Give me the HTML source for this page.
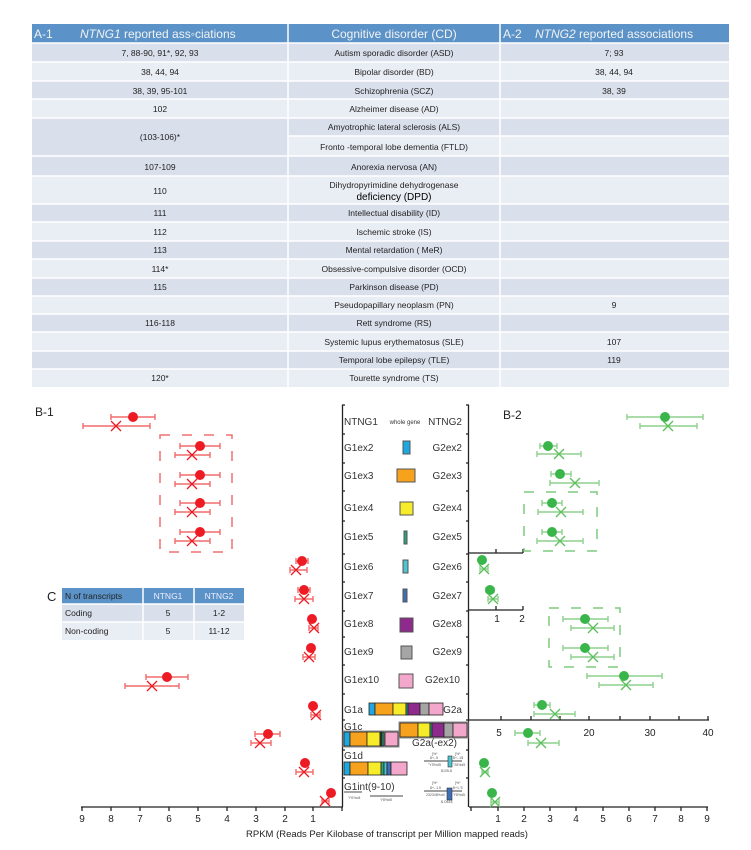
<!DOCTYPE html>
<html><head><meta charset="utf-8"><style>
html,body{margin:0;padding:0;background:#fff;}
svg{display:block;font-family:"Liberation Sans",sans-serif;}
</style></head><body>
<svg width="751" height="850" viewBox="0 0 751 850" xmlns="http://www.w3.org/2000/svg">
<!-- TABLE A -->
<g>
<rect x="32" y="24" width="697" height="19" fill="#5b93c8"/>
<rect x="32" y="43" width="697" height="19" fill="#d9dfeb"/>
<rect x="32" y="62" width="697" height="19" fill="#e9edf4"/>
<rect x="32" y="81" width="697" height="18" fill="#d9dfeb"/>
<rect x="32" y="99" width="697" height="19" fill="#e9edf4"/>
<rect x="32" y="118" width="697" height="18" fill="#d9dfeb"/>
<rect x="288" y="136" width="441" height="20" fill="#e9edf4"/>
<rect x="32" y="136" width="256" height="20" fill="#d9dfeb"/>
<rect x="32" y="156" width="697" height="20" fill="#d9dfeb"/>
<rect x="32" y="176" width="697" height="28" fill="#e9edf4"/>
<rect x="32" y="204" width="697" height="18" fill="#d9dfeb"/>
<rect x="32" y="222" width="697" height="19" fill="#e9edf4"/>
<rect x="32" y="241" width="697" height="18" fill="#d9dfeb"/>
<rect x="32" y="259" width="697" height="19" fill="#e9edf4"/>
<rect x="32" y="278" width="697" height="18" fill="#d9dfeb"/>
<rect x="32" y="296" width="697" height="18" fill="#e9edf4"/>
<rect x="32" y="314" width="697" height="18" fill="#d9dfeb"/>
<rect x="32" y="332" width="697" height="19" fill="#e9edf4"/>
<rect x="32" y="351" width="697" height="18" fill="#d9dfeb"/>
<rect x="32" y="369" width="697" height="18" fill="#e9edf4"/>
<g stroke="#fff" stroke-width="1.5">
<line x1="288" y1="24" x2="288" y2="387"/><line x1="500" y1="24" x2="500" y2="387"/>
<line x1="32" y1="43" x2="729" y2="43"/><line x1="32" y1="62" x2="729" y2="62"/>
<line x1="32" y1="81" x2="729" y2="81"/><line x1="32" y1="99" x2="729" y2="99"/>
<line x1="32" y1="118" x2="729" y2="118"/><line x1="288" y1="136" x2="729" y2="136"/>
<line x1="32" y1="156" x2="729" y2="156"/><line x1="32" y1="176" x2="729" y2="176"/>
<line x1="32" y1="204" x2="729" y2="204"/><line x1="32" y1="222" x2="729" y2="222"/>
<line x1="32" y1="241" x2="729" y2="241"/><line x1="32" y1="259" x2="729" y2="259"/>
<line x1="32" y1="278" x2="729" y2="278"/><line x1="32" y1="296" x2="729" y2="296"/>
<line x1="32" y1="314" x2="729" y2="314"/><line x1="32" y1="332" x2="729" y2="332"/>
<line x1="32" y1="351" x2="729" y2="351"/><line x1="32" y1="369" x2="729" y2="369"/>
</g>
<g fill="#f2f2f2" font-size="12">
<text x="34" y="38">A-1</text>
<text x="80" y="38"><tspan font-style="italic">NTNG1</tspan> reported ass◦ciations</text>
<text x="394" y="38" text-anchor="middle">Cognitive disorder (CD)</text>
<text x="503" y="38">A-2</text>
<text x="535" y="38"><tspan font-style="italic">NTNG2</tspan> reported associations</text>
</g>
<g fill="#222" font-size="8.5" text-anchor="middle">
<text x="160" y="56">7, 88-90, 91*, 92, 93</text>
<text x="394" y="56">Autism sporadic disorder (ASD)</text>
<text x="614" y="56">7; 93</text>
<text x="160" y="75">38, 44, 94</text>
<text x="394" y="75">Bipolar disorder (BD)</text>
<text x="614" y="75">38, 44, 94</text>
<text x="160" y="94">38, 39, 95-101</text>
<text x="394" y="94">Schizophrenia (SCZ)</text>
<text x="614" y="94">38, 39</text>
<text x="160" y="112">102</text>
<text x="394" y="112">Alzheimer disease (AD)</text>
<text x="160" y="140">(103-106)*</text>
<text x="394" y="130">Amyotrophic lateral sclerosis (ALS)</text>
<text x="394" y="150">Fronto  -temporal lobe dementia (FTLD)</text>
<text x="160" y="170">107-109</text>
<text x="394" y="170">Anorexia nervosa (AN)</text>
<text x="160" y="194">110</text>
<text x="394" y="188">Dihydropyrimidine    dehydrogenase</text>
<text x="394" y="200" font-size="10" fill="#000">deficiency (DPD)</text>
<text x="160" y="216">111</text>
<text x="394" y="216">Intellectual disability (ID)</text>
<text x="160" y="235">112</text>
<text x="394" y="235">Ischemic stroke (IS)</text>
<text x="160" y="253">113</text>
<text x="394" y="253">Mental retardation (      MeR)</text>
<text x="160" y="272">114*</text>
<text x="394" y="272">Obsessive-compulsive disorder (OCD)</text>
<text x="160" y="290">115</text>
<text x="394" y="290">Parkinson disease (PD)</text>
<text x="394" y="308">Pseudopapillary    neoplasm (PN)</text>
<text x="614" y="308">9</text>
<text x="160" y="326">116-118</text>
<text x="394" y="326">Rett  syndrome (RS)</text>
<text x="394" y="345">Systemic lupus     erythematosus     (SLE)</text>
<text x="614" y="345">107</text>
<text x="394" y="363">Temporal lobe epilepsy (TLE)</text>
<text x="614" y="363">119</text>
<text x="160" y="381">120*</text>
<text x="394" y="381">Tourette    syndrome (TS)</text>
</g>
</g>

<!-- Labels -->
<text x="35" y="416" font-size="12" fill="#222">B-1</text>
<text x="503" y="419" font-size="12" fill="#222">B-2</text>

<!-- Center column -->
<g stroke="#222" stroke-width="1.3" fill="none">
<line x1="342.5" y1="405" x2="342.5" y2="807"/>
<line x1="468.5" y1="405" x2="468.5" y2="807"/>
<path d="M342 405h3M342 434h3M342 463h3M342 491h3M342 521h3M342 554h3M342 582h3M342 611h3M342 637h3M342 665h3M342 694h3M342 720h3M342 750h3M342 778h3"/>
<path d="M469 405h-3M469 434h-3M469 463h-3M469 491h-3M469 521h-3M469 554h-3M469 582h-3M469 611h-3M469 637h-3M469 665h-3M469 694h-3M469 720h-3M469 750h-3M469 778h-3"/>
</g>
<g font-size="10" fill="#333">
<text x="344" y="425">NTNG1</text><text x="462" y="425" text-anchor="end">NTNG2</text>
<text x="405" y="424" font-size="6" text-anchor="middle">whole gene</text>
<text x="344" y="451">G1ex2</text><text x="462" y="451" text-anchor="end">G2ex2</text>
<text x="344" y="479">G1ex3</text><text x="462" y="479" text-anchor="end">G2ex3</text>
<text x="344" y="511">G1ex4</text><text x="462" y="511" text-anchor="end">G2ex4</text>
<text x="344" y="540">G1ex5</text><text x="462" y="540" text-anchor="end">G2ex5</text>
<text x="344" y="570">G1ex6</text><text x="462" y="570" text-anchor="end">G2ex6</text>
<text x="344" y="599">G1ex7</text><text x="462" y="599" text-anchor="end">G2ex7</text>
<text x="344" y="627">G1ex8</text><text x="462" y="627" text-anchor="end">G2ex8</text>
<text x="344" y="655">G1ex9</text><text x="462" y="655" text-anchor="end">G2ex9</text>
<text x="344" y="683">G1ex10</text><text x="460" y="683" text-anchor="end">G2ex10</text>
<text x="344" y="713">G1a</text><text x="462" y="713" text-anchor="end">G2a</text>
<text x="344" y="730">G1c</text><text x="457" y="746" text-anchor="end">G2a(-ex2)</text>
<text x="344" y="759">G1d</text>
<text x="344" y="790">G1int(9-10)</text>
</g>
<g stroke="#555" stroke-width="1">
<rect x="403" y="441" width="7" height="13" fill="#1ea7e1"/>
<rect x="397" y="469" width="18" height="13" fill="#f7a21d"/>
<rect x="400" y="502" width="13" height="13" fill="#f7ec2a"/>
<rect x="404" y="531" width="3" height="13" fill="#2ba37a"/>
<rect x="403" y="560" width="5" height="13" fill="#4fc3d0"/>
<rect x="403" y="589" width="4" height="13" fill="#3e6fb5"/>
<rect x="400" y="618" width="13" height="14" fill="#8e2a8c"/>
<rect x="401" y="646" width="11" height="13" fill="#a5a5a5"/>
<rect x="399" y="674" width="14" height="14" fill="#f3a8cb"/>
</g>
<!-- G1a bar -->
<g stroke="#222" stroke-width="0.8">
<rect x="369" y="703" width="6" height="12" fill="#1ea7e1"/>
<rect x="375" y="703" width="18" height="12" fill="#f7a21d"/>
<rect x="393" y="703" width="13" height="12" fill="#f7ec2a"/>
<rect x="406" y="703" width="2" height="12" fill="#2ba37a"/>
<rect x="408" y="703" width="12" height="12" fill="#8e2a8c"/>
<rect x="420" y="703" width="9" height="12" fill="#a5a5a5"/>
<rect x="429" y="703" width="14" height="12" fill="#f3a8cb"/>
<!-- G2a(-ex2) -->
<rect x="400" y="723" width="18" height="14" fill="#f7a21d"/>
<rect x="418" y="723" width="12" height="14" fill="#f7ec2a"/>
<rect x="430" y="723" width="2" height="14" fill="#2ba37a"/>
<rect x="432" y="723" width="12" height="14" fill="#8e2a8c"/>
<rect x="444" y="723" width="9" height="14" fill="#a5a5a5"/>
<rect x="453" y="723" width="14" height="14" fill="#f3a8cb"/>
<!-- G1c -->
<rect x="344" y="732" width="6" height="14" fill="#1ea7e1"/>
<rect x="350" y="732" width="17" height="14" fill="#f7a21d"/>
<rect x="367" y="732" width="13" height="14" fill="#f7ec2a"/>
<rect x="380" y="732" width="2" height="14" fill="#333"/>
<rect x="382" y="732" width="2" height="14" fill="#2ba37a"/>
<rect x="385" y="732" width="13" height="14" fill="#f3a8cb"/>
<!-- G1d -->
<rect x="344" y="762" width="6" height="13" fill="#1ea7e1"/>
<rect x="350" y="762" width="18" height="13" fill="#f7a21d"/>
<rect x="368" y="762" width="13" height="13" fill="#f7ec2a"/>
<rect x="381" y="762" width="3" height="13" fill="#2ba37a"/>
<rect x="384" y="762" width="3" height="13" fill="#4fc3d0"/>
<rect x="387" y="762" width="4" height="13" fill="#3e6fb5"/>
<rect x="391" y="762" width="16" height="13" fill="#f3a8cb"/>
</g>
<rect x="399" y="722" width="69" height="16" fill="none" stroke="#888" stroke-width="1"/>
<rect x="343" y="731" width="56" height="16" fill="none" stroke="#888" stroke-width="1"/>
<!-- tiny structures -->
<g stroke="#444" stroke-width="1">
<line x1="424" y1="761" x2="462" y2="761"/>
<line x1="424" y1="791" x2="462" y2="791"/>
<line x1="344" y1="792" x2="362" y2="792" stroke="#888" stroke-width="1.5"/>
<line x1="370" y1="796" x2="403" y2="796"/>
</g>
<rect x="448" y="756" width="4" height="11" fill="#4fc3d0" stroke="#333" stroke-width="0.6"/>
<rect x="447" y="788" width="5" height="12" fill="#3e6fb5" stroke="#333" stroke-width="0.6"/>
<g font-size="3.5" fill="#555">
<text x="432" y="755">]%*</text><text x="455" y="755">]%*</text>
<text x="430" y="759">$+-.5</text><text x="453" y="759">$+-.1$</text>
<text x="428" y="766">"YS%d5</text><text x="453" y="766">"28%d5</text>
<text x="441" y="772">$105-$</text>
<text x="432" y="784">]%*</text><text x="455" y="784">]%*</text>
<text x="430" y="789">$+-.1.5</text><text x="453" y="789">$+1.'5</text>
<text x="426" y="796">232348%d4</text><text x="453" y="796">'Y8%d5</text>
<text x="441" y="803">$.O61$</text>
<text x="348" y="799">'YS%d4</text><text x="380" y="801">'Y8%d5</text>
</g>

<!-- Axes -->
<g stroke="#222" stroke-width="1.3" fill="none">
<line x1="81" y1="807" x2="343" y2="807"/>
<path d="M82 807v4M111 807v4M140 807v4M169 807v4M198 807v4M227 807v4M256 807v4M285 807v4M313 807v4M342 807v4"/>
<line x1="469" y1="807" x2="708" y2="807"/>
<path d="M471 807v4M498 807v4M524 807v4M550 807v4M576 807v4M603 807v4M629 807v4M655 807v4M681 807v4M707 807v4"/>
<line x1="469" y1="720" x2="709" y2="720"/>
<path d="M501 720v-4M531 720v-4M560 720v-4M589 720v-4M620 720v-4M650 720v-4M679 720v-4M708 720v-4"/>
<line x1="469" y1="553" x2="523" y2="553"/>
<path d="M496 553v-4M523 553v-4"/>
<line x1="469" y1="610" x2="523" y2="610"/>
<path d="M496 610v-4M523 610v-4"/>
</g>
<g font-size="10" fill="#222" text-anchor="middle">
<text x="82" y="822">9</text><text x="111" y="822">8</text><text x="140" y="822">7</text><text x="169" y="822">6</text><text x="198" y="822">5</text><text x="227" y="822">4</text><text x="256" y="822">3</text><text x="285" y="822">2</text><text x="313" y="822">1</text>
<text x="498" y="822">1</text><text x="524" y="822">2</text><text x="550" y="822">3</text><text x="576" y="822">4</text><text x="603" y="822">5</text><text x="629" y="822">6</text><text x="655" y="822">7</text><text x="681" y="822">8</text><text x="707" y="822">9</text>
<text x="499" y="736">5</text><text x="589" y="736">20</text><text x="650" y="736">30</text><text x="708" y="736">40</text>
<text x="497" y="622">1</text><text x="522" y="622">2</text>
<text x="387" y="837" font-size="9.5">RPKM (Reads Per Kilobase of transcript per Million mapped reads)</text>
</g>

<!-- Dashed boxes -->
<rect x="160" y="435" width="72" height="117" fill="none" stroke="#f07070" stroke-width="1.5" stroke-dasharray="10,12"/>
<rect x="524" y="492" width="73" height="59" fill="none" stroke="#7fcc7f" stroke-width="1.5" stroke-dasharray="10,12"/>
<rect x="549" y="608" width="71" height="59" fill="none" stroke="#7fcc7f" stroke-width="1.5" stroke-dasharray="10,12"/>

<!-- Red data -->
<g stroke="#f26b6b" stroke-width="1.4" fill="none">
<path d="M111 417H155M111 414v6M155 414v6"/>
<path d="M83 426H150M83 423v6M150 423v6"/>
<path d="M180 446H220M180 443v6M220 443v6M175 455H210M175 452v6M210 452v6"/>
<path d="M180 475H220M180 472v6M220 472v6M175 484H210M175 481v6M210 481v6"/>
<path d="M180 503H220M180 500v6M220 500v6M175 512H210M175 509v6M210 509v6"/>
<path d="M180 532H220M180 529v6M220 529v6M175 541H210M175 538v6M210 538v6"/>
<path d="M296 561H308M296 558v6M308 558v6M290 570H307M290 567v6M307 567v6"/>
<path d="M298 590H310M298 587v6M310 587v6M295 599H313M295 596v6M313 596v6"/>
<path d="M309 628H318M309 625v6M318 625v6"/>
<path d="M303 657H315M303 654v6M315 654v6"/>
<path d="M146 677H188M146 674v6M188 674v6M125 686H179M125 683v6M179 683v6"/>
<path d="M311 715H320M311 712v6M320 712v6"/>
<path d="M255 734H280M255 731v6M280 731v6M251 743H271M251 740v6M271 740v6"/>
<path d="M296 772H313M296 769v6M313 769v6"/>
<path d="M322 801H329M322 798v6M329 798v6"/>
</g>
<g fill="#ed1c24">
<circle cx="133" cy="417" r="5"/><circle cx="200" cy="446" r="5"/><circle cx="200" cy="475" r="5"/><circle cx="200" cy="503" r="5"/><circle cx="200" cy="532" r="5"/>
<circle cx="302" cy="561" r="5"/><circle cx="304" cy="590" r="5"/><circle cx="312" cy="619" r="5"/><circle cx="311" cy="648" r="5"/><circle cx="167" cy="677" r="5"/>
<circle cx="313" cy="706" r="5"/><circle cx="268" cy="734" r="5"/><circle cx="305" cy="763" r="5"/><circle cx="331" cy="793" r="5"/>
</g>
<g stroke="#ed1c24" stroke-width="1.3">
<path d="M111 421l10 10M121 421l-10 10"/>
<path d="M187 450l10 10M197 450l-10 10"/><path d="M187 479l10 10M197 479l-10 10"/><path d="M187 507l10 10M197 507l-10 10"/><path d="M187 536l10 10M197 536l-10 10"/>
<path d="M291 565l10 10M301 565l-10 10"/><path d="M299 594l10 10M309 594l-10 10"/><path d="M309 623l10 10M319 623l-10 10"/><path d="M304 652l10 10M314 652l-10 10"/>
<path d="M147 681l10 10M157 681l-10 10"/><path d="M311 710l10 10M321 710l-10 10"/><path d="M255 738l10 10M265 738l-10 10"/><path d="M299 767l10 10M309 767l-10 10"/><path d="M320 796l10 10M330 796l-10 10"/>
</g>

<!-- Green data -->
<g stroke="#8dd18d" stroke-width="1.4" fill="none">
<path d="M627 417H703M627 414v6M703 414v6M640 426H697M640 423v6M697 423v6"/>
<path d="M540 446H557M540 443v6M557 443v6M537 454H581M537 451v6M581 451v6"/>
<path d="M551 474H571M551 471v6M571 471v6M550 483H599M550 480v6M599 480v6"/>
<path d="M542 503H562M542 500v6M562 500v6M538 512H583M538 509v6M583 509v6"/>
<path d="M542 532H562M542 529v6M562 529v6M537 541H583M537 538v6M583 538v6"/>
<path d="M480 569H488M480 566v6M488 566v6"/>
<path d="M486 590H494M486 587v6M494 587v6M488 599H498M488 596v6M498 596v6"/>
<path d="M563 619H608M563 616v6M608 616v6M571 628H614M571 625v6M614 625v6"/>
<path d="M563 648H608M563 645v6M608 645v6M571 657H614M571 654v6M614 654v6"/>
<path d="M587 676H662M587 673v6M662 673v6M599 685H653M599 682v6M653 682v6"/>
<path d="M534 705H550M534 702v6M550 702v6M534 714H575M534 711v6M575 711v6"/>
<path d="M515 733H540M515 730v6M540 730v6M528 743H559M528 740v6M559 740v6"/>
<path d="M482 772H488M482 769v6M488 769v6"/>
<path d="M491 802H499M491 799v6M499 799v6"/>
</g>
<g fill="#39b54a">
<circle cx="665" cy="417" r="5"/><circle cx="548" cy="446" r="5"/><circle cx="560" cy="474" r="5"/><circle cx="552" cy="503" r="5"/><circle cx="552" cy="532" r="5"/>
<circle cx="482" cy="560" r="5"/><circle cx="490" cy="590" r="5"/><circle cx="585" cy="619" r="5"/><circle cx="585" cy="648" r="5"/><circle cx="624" cy="676" r="5"/>
<circle cx="542" cy="705" r="5"/><circle cx="528" cy="733" r="5"/><circle cx="484" cy="763" r="5"/><circle cx="492" cy="793" r="5"/>
</g>
<g stroke="#5cc05c" stroke-width="1.3">
<path d="M663 421l10 10M673 421l-10 10"/><path d="M554 449l10 10M564 449l-10 10"/><path d="M570 478l10 10M580 478l-10 10"/><path d="M556 507l10 10M566 507l-10 10"/><path d="M555 536l10 10M565 536l-10 10"/>
<path d="M479 564l10 10M489 564l-10 10"/><path d="M488 594l10 10M498 594l-10 10"/><path d="M588 623l10 10M598 623l-10 10"/><path d="M588 652l10 10M598 652l-10 10"/><path d="M621 680l10 10M631 680l-10 10"/>
<path d="M550 709l10 10M560 709l-10 10"/><path d="M536 738l10 10M546 738l-10 10"/><path d="M480 767l10 10M490 767l-10 10"/><path d="M490 797l10 10M500 797l-10 10"/>
</g>

<!-- Table C -->
<text x="47" y="601" font-size="13" fill="#222">C</text>
<rect x="62" y="588" width="182" height="16" fill="#5b93c8"/>
<rect x="62" y="604" width="182" height="18" fill="#d9dfeb"/>
<rect x="62" y="622" width="182" height="18" fill="#e9edf4"/>
<g stroke="#fff" stroke-width="1.5"><line x1="143" y1="588" x2="143" y2="640"/><line x1="194" y1="588" x2="194" y2="640"/><line x1="62" y1="604" x2="244" y2="604"/><line x1="62" y1="622" x2="244" y2="622"/></g>
<g font-size="8.5">
<text x="65" y="599" fill="#222">N of transcripts</text>
<text x="168" y="599" fill="#eef" text-anchor="middle">NTNG1</text>
<text x="219" y="599" fill="#eef" text-anchor="middle">NTNG2</text>
<text x="65" y="616" fill="#222">Coding</text>
<text x="168" y="616" fill="#222" text-anchor="middle">5</text>
<text x="219" y="616" fill="#222" text-anchor="middle">1-2</text>
<text x="65" y="634" fill="#222">Non-coding</text>
<text x="168" y="634" fill="#222" text-anchor="middle">5</text>
<text x="219" y="634" fill="#222" text-anchor="middle">11-12</text>
</g>
</svg>
</body></html>
